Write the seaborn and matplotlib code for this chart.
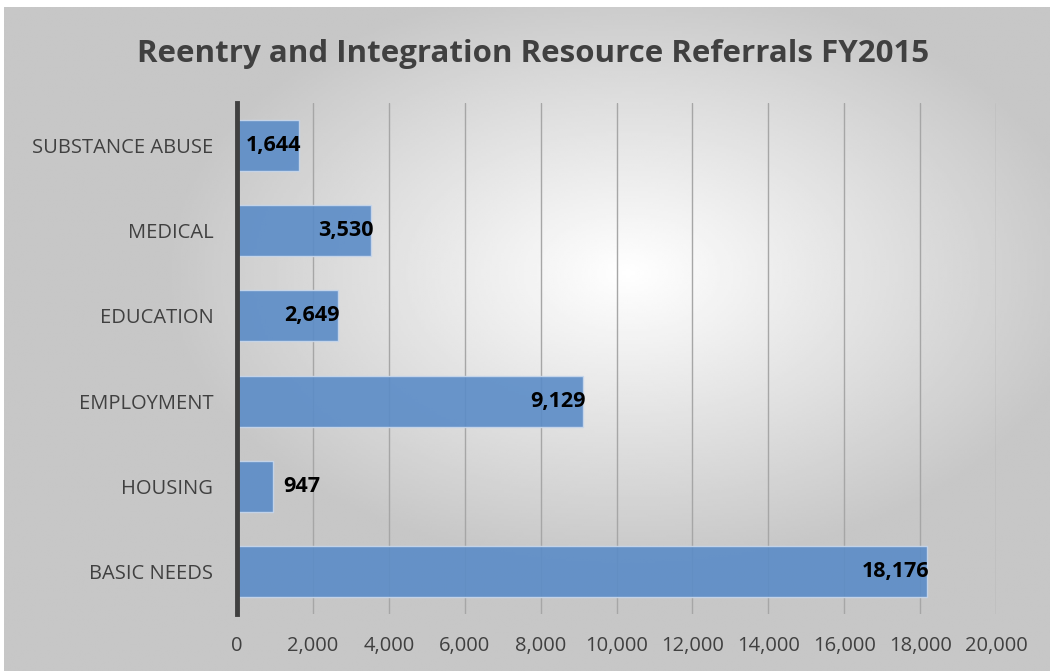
import numpy as np
import matplotlib
matplotlib.use("Agg")
import matplotlib.pyplot as plt
import seaborn as sns
import pandas as pd

# Data
categories = ["SUBSTANCE ABUSE", "MEDICAL", "EDUCATION", "EMPLOYMENT", "HOUSING", "BASIC NEEDS"]
referrals = [1644, 3530, 2649, 9129, 947, 18176]
x_ticks = [0, 2000, 4000, 6000, 8000, 10000, 12000, 14000, 16000, 18000, 20000]

df = pd.DataFrame({"category": categories, "referrals": referrals})

sns.set_theme(style="white")
plt.rcParams["font.family"] = ["Open Sans", "DejaVu Sans"]

fig = plt.figure(figsize=(10.5, 6.71), dpi=100)

# Radial gradient background panel
bg = fig.add_axes([0.004, 0, 0.996, 0.99])
yy, xx = np.mgrid[0:300, 0:470]
cx, cy = 280, 120
r = np.sqrt(((xx - cx) / 470) ** 2 + ((yy - cy) / 300) ** 2)
shade = np.clip(1.0 - 0.5 * r, 0.78, 1.0)
bg.imshow(shade, cmap="gray", vmin=0, vmax=1, aspect="auto", extent=[0, 1, 0, 1])
bg.set_axis_off()

ax = fig.add_axes([0.2257, 0.0849, 0.7229, 0.7616])
ax.patch.set_alpha(0)

sns.barplot(data=df, x="referrals", y="category", orient="h", color="#5b8cc7",
            alpha=0.9, width=0.6, edgecolor="#c9d8ec", linewidth=1, ax=ax,
            saturation=1)

ax.set_xlim(0, 20000)
ax.set_ylim(5.5, -0.5)
ax.set_xticks(x_ticks)
ax.set_xticklabels([f"{v:,}" for v in x_ticks], fontsize=14.5, color="#404040")
ax.tick_params(axis="y", labelsize=14.5, labelcolor="#404040", length=0, pad=17)
ax.tick_params(axis="x", length=0, pad=16)
ax.set_xlabel("")
ax.set_ylabel("")
ax.grid(axis="x", color="#a6a6a6", linewidth=1)
ax.set_axisbelow(True)
for side in ["top", "right", "bottom"]:
    ax.spines[side].set_visible(False)
ax.spines["left"].set_color("#404040")
ax.spines["left"].set_linewidth(3.5)

for i, v in enumerate(referrals):
    if v < 1500:
        ax.text(v + 280, i, f"{v:,}", ha="left", va="center", fontsize=15.5,
                fontweight="bold", color="black")
    else:
        ax.text(v + 60, i, f"{v:,}", ha="right", va="center", fontsize=15.5,
                fontweight="bold", color="black")

fig.text(0.508, 0.92, "Reentry and Integration Resource Referrals FY2015",
         ha="center", va="center", fontsize=22.5, fontweight="bold", color="#404040")

fig.savefig("out.png", dpi=100)
